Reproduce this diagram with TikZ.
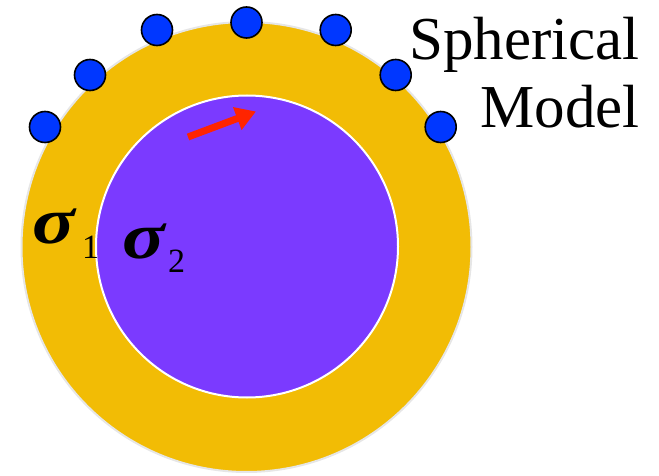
\documentclass[tikz,border=0pt]{standalone}
\usepackage{fontspec}
\setmainfont{Liberation Serif}
\usetikzlibrary{arrows.meta}
\definecolor{shellorange}{HTML}{F2BC05}
\definecolor{corepurple}{HTML}{7B3AFF}
\definecolor{dotblue}{HTML}{0037FF}
\definecolor{arrred}{HTML}{FF2400}
\definecolor{rimgray}{HTML}{E6E6E6}
\tikzset{
  sensor/.style={circle,draw=black,line width=1.6pt,fill=dotblue,minimum size=31pt,inner sep=0pt},
  label/.style={inner sep=0pt,anchor=base west},
}
\newcommand{\sigglyph}{\scalebox{1.2}[1]{\fontsize{66}{66}\selectfont\bfseries\itshape σ}}
\begin{document}
\begin{tikzpicture}[x=1pt,y=-1pt]
\useasboundingbox (0,0) rectangle (659,476);
% shells
\node[circle,draw=rimgray,line width=2pt,fill=shellorange,minimum size=450pt,inner sep=0pt] (outer) at (246.5,247) {};
\node[circle,draw=white,line width=2pt,fill=corepurple,minimum size=302pt,inner sep=0pt] (inner) at (247,246.5) {};
% sensors
\node[sensor] (s1) at (45,127) {};
\node[sensor] (s2) at (90,75) {};
\node[sensor] (s3) at (157,30) {};
\node[sensor] (s4) at (246.5,22.5) {};
\node[sensor] (s5) at (335.7,30) {};
\node[sensor] (s6) at (395.7,75) {};
\node[sensor] (s7) at (440.7,127) {};
% dipole arrow
\coordinate (arrS) at (188,137);
\coordinate (arrE) at (256,111.5);
\draw[arrred,line width=7pt,-{Triangle[length=20pt,width=23pt]}] (arrS) -- (arrE);
% labels
\node[label] (sig1) at (32,243) {\sigglyph};
\node[label] (sub1) at (82,258) {\fontsize{34}{34}\selectfont 1};
\node[label] (sig2) at (122,258) {\sigglyph};
\node[label] (sub2) at (168,272) {\fontsize{34}{34}\selectfont 2};
\node[inner sep=0pt,anchor=base east] (t1) at (640,60) {\fontsize{61}{61}\selectfont Spherical};
\node[inner sep=0pt,anchor=base east] (t2) at (640,128) {\fontsize{61}{61}\selectfont Model};
\end{tikzpicture}
\end{document}
